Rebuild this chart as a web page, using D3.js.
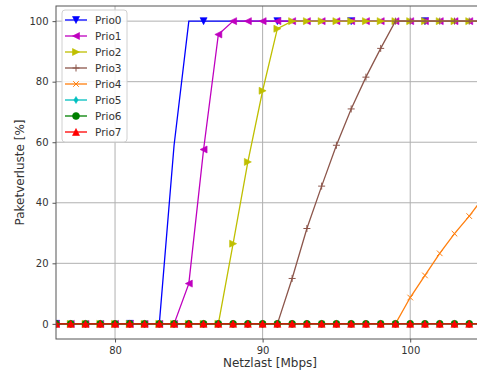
<!DOCTYPE html>
<html>
<head>
<meta charset="utf-8">
<script src="https://cdn.jsdelivr.net/npm/d3@7"></script>
<style>
body { margin:0; background:#fff; }
svg { font-family: "DejaVu Sans", sans-serif; }
</style>
</head>
<body>
<svg id="chart" width="477" height="374"></svg>
<script>
// data, Netzlast in Mbps
var netzlast = [76,77,78,79,80,81,82,83,84,85,86,87,88,89,90,91,92,93,94,95,96,97,98,99,100,101,102,103,104,105];
var prio0 = [0,0,0,0,0,0,0,0,59,100,100,100,100,100,100,100,100,100,100,100,100,100,100,100,100,100,100,100,100,100];
var prio1 = [0,0,0,0,0,0,0,0,0,13.3,57.6,95.6,100,100,100,100,100,100,100,100,100,100,100,100,100,100,100,100,100,100];
var prio2 = [0,0,0,0,0,0,0,0,0,0,0,0,26.5,53.5,77,97.5,100,100,100,100,100,100,100,100,100,100,100,100,100,100];
var prio3 = [0,0,0,0,0,0,0,0,0,0,0,0,0,0,0,0,15,31.5,45.5,59,71,81.5,91,100,100,100,100,100,100,100];
var prio4 = [0,0,0,0,0,0,0,0,0,0,0,0,0,0,0,0,0,0,0,0,0,0,0,0,8.7,16,23.3,29.8,35.6,42];
var prio5 = [0,0,0,0,0,0,0,0,0,0,0,0,0,0,0,0,0,0,0,0,0,0,0,0,0,0,0,0,0,0];
var prio6 = [0,0,0,0,0,0,0,0,0,0,0,0,0,0,0,0,0,0,0,0,0,0,0,0,0,0,0,0,0,0];
var prio7 = [0,0,0,0,0,0,0,0,0,0,0,0,0,0,0,0,0,0,0,0,0,0,0,0,0,0,0,0,0,0];
var seriesNames = ["Prio0","Prio1","Prio2","Prio3","Prio4","Prio5","Prio6","Prio7"];
var xTicks = [80,90,100];
var yTicks = [0,20,40,60,80,100];

var config = {
	left : 56,
	right : 484,
	top : 6,
	bottom : 339
}

var series = [
	{ name:seriesNames[0], values:prio0, color:"#0000ff", marker:"v", every:5 },
	{ name:seriesNames[1], values:prio1, color:"#bf00bf", marker:"<", every:1 },
	{ name:seriesNames[2], values:prio2, color:"#bfbf00", marker:">", every:1 },
	{ name:seriesNames[3], values:prio3, color:"#8c564b", marker:"+", every:1 },
	{ name:seriesNames[4], values:prio4, color:"#ff7f0e", marker:"x", every:1 },
	{ name:seriesNames[5], values:prio5, color:"#00bfbf", marker:"d", every:1 },
	{ name:seriesNames[6], values:prio6, color:"#008000", marker:"o", every:1 },
	{ name:seriesNames[7], values:prio7, color:"#ff0000", marker:"^", every:1 }
];

var svg = d3.select("#chart");

var x = d3.scaleLinear().domain([76,105]).range([config.left, config.right]);
var y = d3.scaleLinear().domain([-5,105]).range([config.bottom, config.top]);

// grid lines
svg.append("g").selectAll("line").data(xTicks).enter().append("line")
	.attr("x1", function(d){ return x(d); }).attr("x2", function(d){ return x(d); })
	.attr("y1", config.top).attr("y2", config.bottom)
	.attr("stroke", "#b0b0b0").attr("stroke-width", 1);
svg.append("g").selectAll("line").data(yTicks).enter().append("line")
	.attr("x1", config.left).attr("x2", config.right)
	.attr("y1", function(d){ return y(d); }).attr("y2", function(d){ return y(d); })
	.attr("stroke", "#b0b0b0").attr("stroke-width", 1);

// marker shapes, size in px
function markerPath(m, s){
	var h = s/2;
	if(m == "v") return "M"+(-h)+","+(-h)+"L"+h+","+(-h)+"L0,"+h+"Z";
	if(m == "^") return "M"+(-h)+","+h+"L"+h+","+h+"L0,"+(-h)+"Z";
	if(m == "<") return "M"+h+","+(-h)+"L"+h+","+h+"L"+(-h)+",0Z";
	if(m == ">") return "M"+(-h)+","+(-h)+"L"+(-h)+","+h+"L"+h+",0Z";
	if(m == "+") return "M"+(-h)+",0L"+h+",0M0,"+(-h)+"L0,"+h;
	if(m == "x") return "M"+(-h*0.8)+","+(-h*0.8)+"L"+(h*0.8)+","+(h*0.8)+"M"+(-h*0.8)+","+(h*0.8)+"L"+(h*0.8)+","+(-h*0.8);
	if(m == "d") return "M0,"+(-h)+"L"+(h*0.6)+",0L0,"+h+"L"+(-h*0.6)+",0Z";
	if(m == "o") return d3.symbol().type(d3.symbolCircle).size(Math.PI*h*h)();
	return "";
}

function drawMarker(g, m, color, s){
	var open = (m == "+" || m == "x");
	g.append("path").attr("d", markerPath(m, s))
		.attr("fill", open ? "none" : color)
		.attr("stroke", color)
		.attr("stroke-width", open ? 1 : 0.6);
}

var clip = svg.append("clipPath").attr("id","plotclip").append("rect")
	.attr("x", config.left).attr("y", config.top)
	.attr("width", config.right-config.left).attr("height", config.bottom-config.top);

var plot = svg.append("g").attr("clip-path","url(#plotclip)");

var line = d3.line()
	.x(function(d,i){ return x(netzlast[i]); })
	.y(function(d){ return y(d); });

series.forEach(function(s){
	var g = plot.append("g");
	g.append("path").datum(s.values)
		.attr("d", line)
		.attr("fill","none")
		.attr("stroke", s.color)
		.attr("stroke-width", 1.3);
	s.values.forEach(function(v,i){
		if(i % s.every != 0) return;
		var mg = g.append("g").attr("transform","translate("+x(netzlast[i])+","+y(v)+")");
		drawMarker(mg, s.marker, s.color, 7);
	});
});

// spines
svg.append("rect")
	.attr("x", config.left).attr("y", config.top)
	.attr("width", config.right-config.left).attr("height", config.bottom-config.top)
	.attr("fill","none").attr("stroke","#555").attr("stroke-width",1);

// axes
var xAxis = d3.axisBottom(x).tickValues(xTicks).tickSize(3.5).tickPadding(4);
var yAxis = d3.axisLeft(y).tickValues(yTicks).tickSize(3.5).tickPadding(4);

var gx = svg.append("g").attr("transform","translate(0,"+config.bottom+")").call(xAxis);
var gy = svg.append("g").attr("transform","translate("+config.left+",0)").call(yAxis);
[gx, gy].forEach(function(g){
	g.select(".domain").remove();
	g.selectAll("line").attr("stroke","#555");
	g.selectAll("text").attr("fill","#333").style("font-size","10px").style("font-family","DejaVu Sans");
});

svg.append("text")
	.attr("x", (config.left+config.right)/2).attr("y", 367)
	.attr("text-anchor","middle").attr("fill","#333")
	.style("font-size","12px")
	.text("Netzlast [Mbps]");

svg.append("text")
	.attr("transform","translate(24,"+((config.top+config.bottom)/2)+") rotate(-90)")
	.attr("text-anchor","middle").attr("fill","#333")
	.style("font-size","12px")
	.text("Paketverluste [%]");

// legend
var legend = svg.append("g").attr("transform","translate(62,10)");
legend.append("rect")
	.attr("width", 65).attr("height", 132).attr("rx", 3)
	.attr("fill","#fff").attr("fill-opacity",0.85)
	.attr("stroke","#d0d0d0").attr("stroke-width",1);

series.forEach(function(s,i){
	var row = legend.append("g").attr("transform","translate(0,"+(10+i*16)+")");
	row.append("line").attr("x1",3).attr("x2",25).attr("y1",0).attr("y2",0)
		.attr("stroke", s.color).attr("stroke-width",1.3);
	var mg = row.append("g").attr("transform","translate(14,0)");
	drawMarker(mg, s.marker, s.color, 7);
	row.append("text").attr("x", 33).attr("y", 4)
		.attr("fill","#333").style("font-size","10.5px")
		.text(s.name);
});
</script>
</body>
</html>
